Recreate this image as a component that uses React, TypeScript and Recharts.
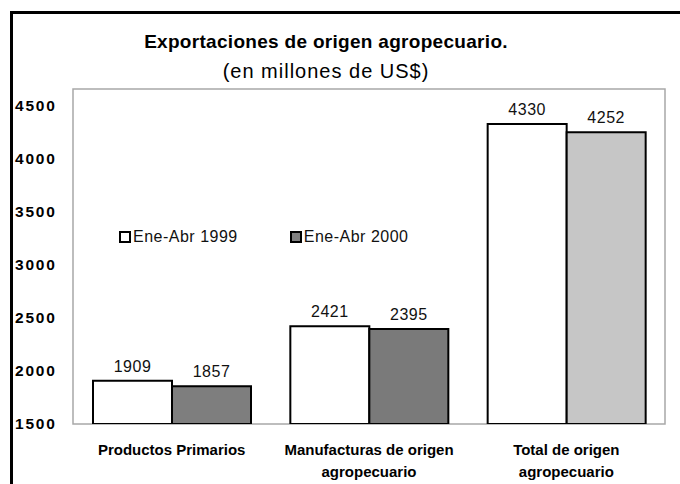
import {
  Bar,
  BarChart,
  Cell,
  LabelList,
  ReferenceArea,
  XAxis,
  YAxis,
} from "recharts";

const categories = [
  "Productos Primarios",
  "Manufacturas de origen\nagropecuario",
  "Total de origen\nagropecuario",
];
const values1999 = [1909, 2421, 4330];
const values2000 = [1857, 2395, 4252];
const fill2000 = ["#7e7e7e", "#7a7a7a", "#c6c6c6"];
const yTicks = [1500, 2000, 2500, 3000, 3500, 4000, 4500];
const seriesNames = ["Ene-Abr 1999", "Ene-Abr 2000"];

const rows = categories.map((name, i) => ({
  name,
  y1999: values1999[i],
  y2000: values2000[i],
}));

const FONT = "'Liberation Sans', Arial, sans-serif";

function YTick({ y, payload }: { y?: number; payload?: { value: number } }) {
  return (
    <text
      x={15}
      y={y}
      dy={5}
      textAnchor="start"
      fontFamily={FONT}
      fontWeight="bold"
      fontSize={15.5}
      letterSpacing={1.8}
      fill="#000"
    >
      {payload?.value}
    </text>
  );
}

function XTick({ x, y, payload }: { x?: number; y?: number; payload?: { value: string } }) {
  const lines = String(payload?.value ?? "").split("\n");
  return (
    <g>
      {lines.map((l, i) => (
        <text
          key={i}
          x={x}
          y={(y ?? 0) + 23 + i * 22}
          textAnchor="middle"
          fontFamily={FONT}
          fontWeight="bold"
          fontSize={15}
          fill="#000"
        >
          {l}
        </text>
      ))}
    </g>
  );
}

function ChartLegend() {
  return (
    <div
      style={{
        position: "absolute",
        left: 119,
        top: 228,
        display: "flex",
        fontFamily: FONT,
        fontSize: 16,
        letterSpacing: 0.5,
        color: "#111",
      }}
    >
      {seriesNames.map((s, i) => (
        <span
          key={s}
          style={{ display: "flex", alignItems: "center", marginRight: i === 0 ? 52 : 0 }}
        >
          <span
            style={{
              width: 8,
              height: 8,
              border: "2px solid #000",
              background: i === 0 ? "#fff" : "#808080",
              marginRight: 2,
            }}
          />
          {s}
        </span>
      ))}
    </div>
  );
}

export default function App() {
  return (
    <div style={{ position: "absolute", left: 0, top: 0, width: 680, height: 484, background: "#fff" }}>
      <div
        style={{
          position: "absolute",
          left: 10,
          top: 11,
          width: 670,
          height: 473,
          borderTop: "3px solid #000",
          borderLeft: "3px solid #000",
        }}
      />
      <div
        style={{
          position: "absolute",
          left: 0,
          top: 31,
          width: 652,
          textAlign: "center",
          fontFamily: FONT,
          fontWeight: "bold",
          fontSize: 19,
          letterSpacing: 0.3,
          lineHeight: "22px",
        }}
      >
        Exportaciones de origen agropecuario.
      </div>
      <div
        style={{
          position: "absolute",
          left: 0,
          top: 60,
          width: 652,
          textAlign: "center",
          fontFamily: FONT,
          fontSize: 20,
          letterSpacing: 1,
          lineHeight: "22px",
        }}
      >
        (en millones de US$)
      </div>
      <BarChart
        width={680}
        height={484}
        data={rows}
        margin={{ top: 89, right: 15, bottom: 0, left: 0 }}
        barGap={0}
        barSize={79}
        style={{ position: "absolute", left: 0, top: 0 }}
      >
        <ReferenceArea y1={1500} y2={4660} fill="none" stroke="#a8a8a8" strokeWidth={1.5} />
        <XAxis
          dataKey="name"
          axisLine={false}
          tickLine={false}
          interval={0}
          height={60}
          tick={<XTick />}
        />
        <YAxis
          width={73}
          domain={[1500, 4660]}
          ticks={yTicks}
          allowDataOverflow
          axisLine={false}
          tickLine={false}
          tick={<YTick />}
        />
        <Bar
          dataKey="y1999"
          name={seriesNames[0]}
          fill="#fff"
          stroke="#000"
          strokeWidth={2}
          isAnimationActive={false}
        >
          <LabelList
            dataKey="y1999"
            position="top"
            offset={9}
            fontFamily={FONT}
            fontSize={16}
            letterSpacing={0.5}
            fill="#111"
          />
        </Bar>
        <Bar
          dataKey="y2000"
          name={seriesNames[1]}
          fill="#808080"
          stroke="#000"
          strokeWidth={2}
          isAnimationActive={false}
        >
          {rows.map((r, i) => (
            <Cell key={r.name} fill={fill2000[i]} />
          ))}
          <LabelList
            dataKey="y2000"
            position="top"
            offset={9}
            fontFamily={FONT}
            fontSize={16}
            letterSpacing={0.5}
            fill="#111"
          />
        </Bar>
      </BarChart>
      <ChartLegend />
    </div>
  );
}
